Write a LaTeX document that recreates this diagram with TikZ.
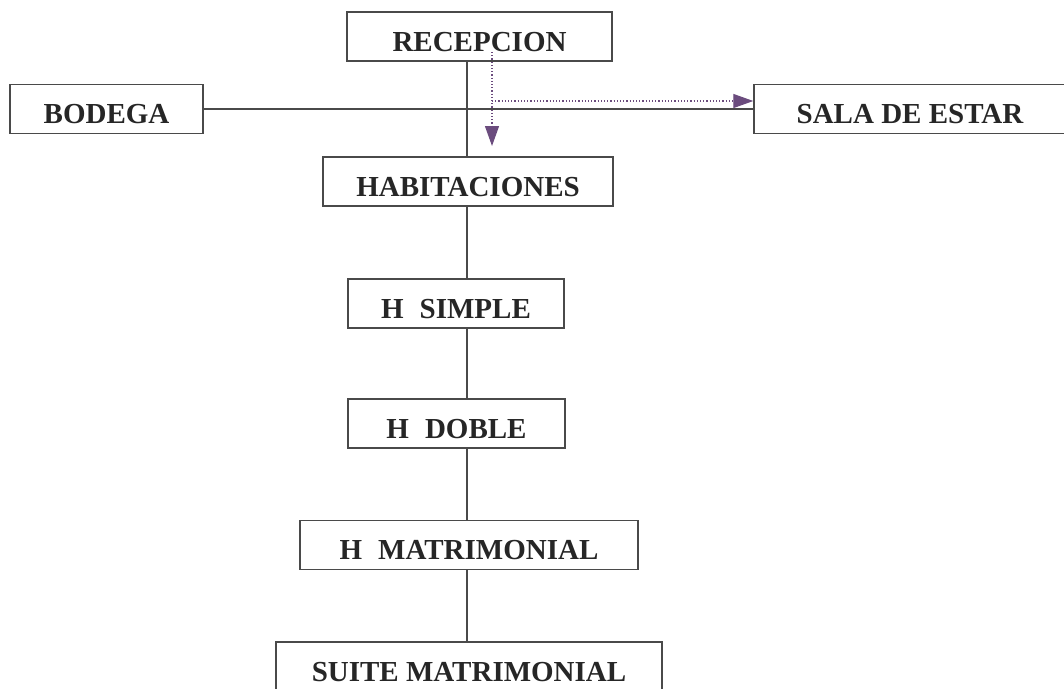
\documentclass[tikz,border=0pt]{standalone}
\usepackage{fontspec}
\setmainfont{Liberation Serif}
\usetikzlibrary{arrows.meta}
\definecolor{boxline}{HTML}{4A4A4A}
\definecolor{flow}{HTML}{6B4C7E}
\begin{document}
\begin{tikzpicture}[x=1pt,y=-1pt,
  area/.style={draw=boxline,line width=1.4pt,fill=white,minimum height=49pt,
    text height=29pt,text depth=0pt,inner sep=0pt,
    font=\fontsize{29}{31}\selectfont\bfseries,text=black!85},
  link/.style={draw=boxline,line width=1.2pt},
  route/.style={draw=flow,line width=1.2pt,dotted,
    -{Triangle[length=20pt,width=14pt]}}]
\useasboundingbox (0,0) rectangle (1064,688);
% guide for the main vertical trunk and the dotted route
\coordinate (trunk) at (467,0);
\coordinate (r0) at (492,52);
\coordinate (rdown) at (492,146);
\coordinate (rturn) at (492,101);
% rooms
\node[area,minimum width=265pt] (rec) at (479.5,36.5) {RECEPCION};
\node[area,minimum width=193pt] (bod) at (106.5,109) {BODEGA};
\node[area,minimum width=312pt] (sala) at (910,109) {SALA DE ESTAR};
\node[area,minimum width=290pt] (hab) at (468,181.5) {HABITACIONES};
\node[area,minimum width=216pt] (hs) at (456,303.5) {H\hspace{0.55em}SIMPLE};
\node[area,minimum width=217pt] (hd) at (456.5,423.5) {H\hspace{0.55em}DOBLE};
\node[area,minimum width=338pt] (hm) at (469,545) {H\hspace{0.55em}MATRIMONIAL};
\node[area,minimum width=386pt] (sm) at (469,666.5) {SUITE MATRIMONIAL};
% solid connections
\draw[link] (bod.east) -- (sala.west);
\draw[link] (rec.south -| trunk) -- (hab.north -| trunk);
\draw[link] (hab.south -| trunk) -- (hs.north -| trunk);
\draw[link] (hs.south -| trunk) -- (hd.north -| trunk);
\draw[link] (hd.south -| trunk) -- (hm.north -| trunk);
\draw[link] (hm.south -| trunk) -- (sm.north -| trunk);
% dotted route from reception
\draw[route] (r0) -- (rdown);
\draw[route] (rturn) -- (sala.west |- rturn);
\end{tikzpicture}
\end{document}
